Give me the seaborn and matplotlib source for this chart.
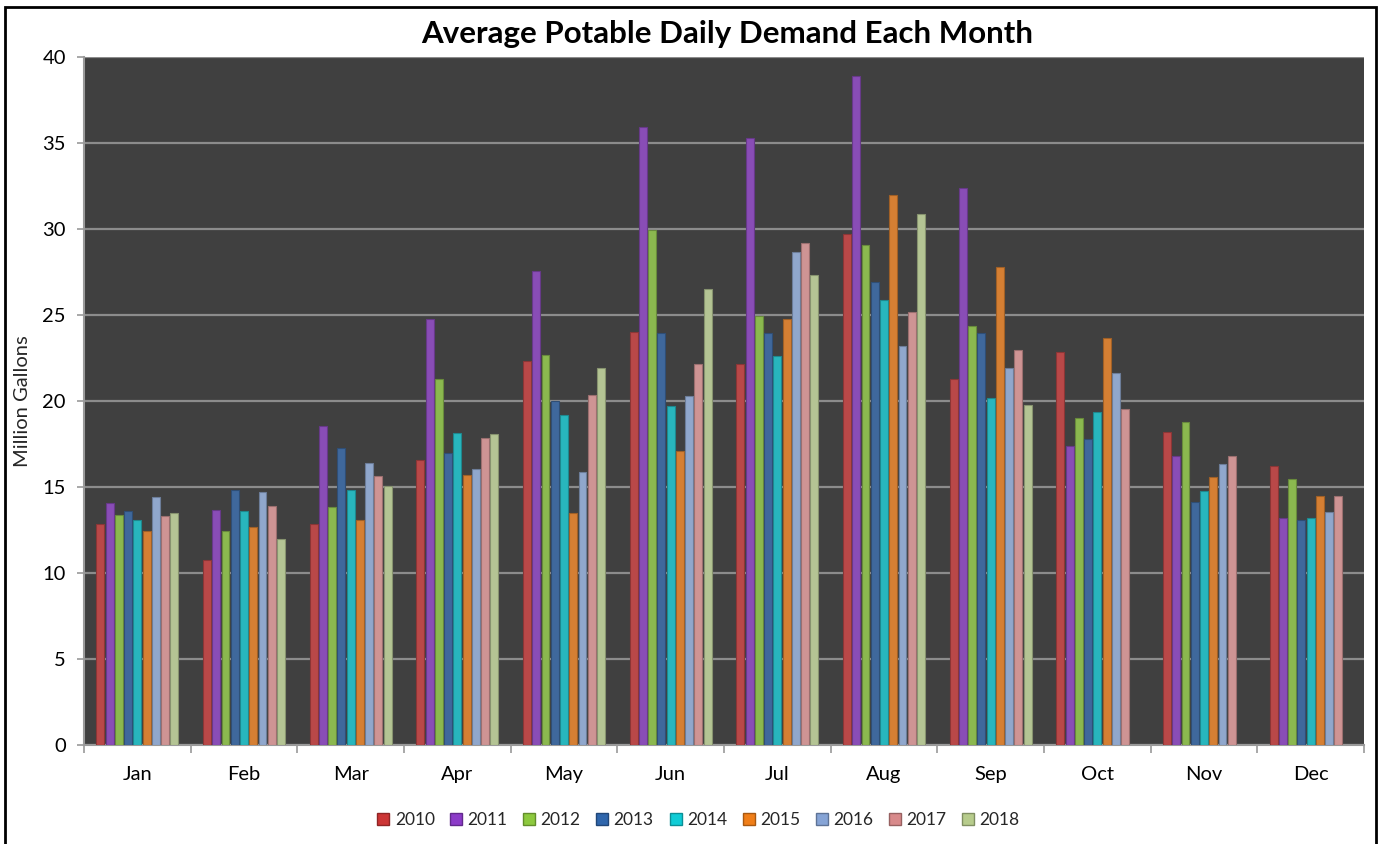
import numpy as np
import pandas as pd
import matplotlib
matplotlib.use("Agg")
import matplotlib.pyplot as plt
import matplotlib.colors as mcolors
import seaborn as sns
from matplotlib.patches import Rectangle
from matplotlib.lines import Line2D

# ---------------- data ----------------
months = ["Jan", "Feb", "Mar", "Apr", "May", "Jun",
          "Jul", "Aug", "Sep", "Oct", "Nov", "Dec"]
years = ["2010", "2011", "2012", "2013", "2014", "2015", "2016", "2017", "2018"]

v2010 = [12.85, 10.75, 12.85, 16.55, 22.33, 24.03, 22.15, 29.71, 21.26, 22.85, 18.18, 16.22]
v2011 = [14.07, 13.66, 18.56, 24.75, 27.56, 35.93, 35.31, 38.90, 32.40, 17.38, 16.80, 13.18]
v2012 = [13.40, 12.44, 13.85, 21.30, 22.70, 29.94, 24.96, 29.07, 24.34, 19.01, 18.76, 15.48]
v2013 = [13.60, 14.80, 17.27, 16.96, 19.98, 23.97, 23.93, 26.94, 23.95, 17.81, 14.15, 13.10]
v2014 = [13.10, 13.60, 14.80, 18.14, 19.17, 19.69, 22.63, 25.87, 20.17, 19.38, 14.79, 13.22]
v2015 = [12.44, 12.70, 13.10, 15.70, 13.47, 17.11, 24.75, 31.98, 27.80, 23.64, 15.60, 14.50]
v2016 = [14.40, 14.70, 16.40, 16.03, 15.85, 20.29, 28.64, 23.20, 21.92, 21.61, 16.32, 13.55]
v2017 = [13.30, 13.90, 15.64, 17.83, 20.33, 22.13, 29.19, 25.17, 22.96, 19.53, 16.80, 14.50]
v2018 = [13.50, 12.00, 15.06, 18.08, 21.90, 26.49, 27.34, 30.87, 19.75, None, None, None]

series = [v2010, v2011, v2012, v2013, v2014, v2015, v2016, v2017, v2018]

colors = ["#CC3535", "#8C3BC8", "#8DC93E", "#2F66AC", "#0FCCD6",
          "#F07E18", "#86A4D6", "#D88A8B", "#B7CC8C"]

rows = []
for yr, vals in zip(years, series):
    for m, v in zip(months, vals):
        if v is not None:
            rows.append({"Month": m, "Year": yr, "Value": v})
df = pd.DataFrame(rows)

# ---------------- style ----------------
sns.set_style("white")
plt.rcParams["font.family"] = ["Lato", "DejaVu Sans"]

fig = plt.figure(figsize=(13.8, 8.44), dpi=100)
fig.patch.set_facecolor("white")

ax = fig.add_axes([84 / 1380, 1 - 745 / 844, (1364 - 84) / 1380, (745 - 57) / 844])
ax.set_facecolor("#404040")

sns.barplot(data=df, x="Month", y="Value", hue="Year",
            order=months, hue_order=years, palette=colors,
            width=0.78, gap=0.15, errorbar=None, legend=False,
            linewidth=0.8, ax=ax, zorder=3)

# darker outline for each bar
for p in ax.patches:
    fc = np.array(mcolors.to_rgb(p.get_facecolor()))
    p.set_edgecolor(tuple(fc * 0.75))

ax.set_ylim(0, 40)
ax.set_xlim(-0.5, 11.5)
ax.set_yticks(np.arange(0, 41, 5))
ax.yaxis.grid(True, color="#8C8C8C", linewidth=1.6, zorder=0)
ax.set_axisbelow(True)

for s in ["top", "right"]:
    ax.spines[s].set_visible(False)
for s in ["left", "bottom"]:
    ax.spines[s].set_color("#9A9A9A")
    ax.spines[s].set_linewidth(1.5)

ax.tick_params(axis="y", length=5, width=1.2, color="#9A9A9A", pad=8,
               labelsize=14.5, labelcolor="black", left=True)
ax.tick_params(axis="x", which="major", length=0, pad=15,
               labelsize=14.5, labelcolor="black")
ax.set_xticks(np.arange(-0.5, 12, 1.0), minor=True)
ax.tick_params(axis="x", which="minor", length=6, width=1.2,
               color="#9A9A9A", bottom=True)

ax.set_xlabel("")
ax.set_ylabel("Million Gallons", fontsize=14.5, labelpad=8)

fig.text(727 / 1380, 1 - 34 / 844, "Average Potable Daily Demand Each Month",
         ha="center", va="center", fontsize=22.5, fontweight="bold", color="black")

handles = [Line2D([0], [0], marker="s", linestyle="", markersize=8,
                  markerfacecolor=c, markeredgecolor=tuple(np.array(mcolors.to_rgb(c)) * 0.7))
           for c in colors]
fig.legend(handles, years, loc="center", bbox_to_anchor=(697 / 1380, 1 - 820 / 844),
           ncol=9, frameon=False, fontsize=12.5, handletextpad=0.15,
           columnspacing=0.75, handlelength=1.0)

# outer frame
fig.add_artist(Rectangle((5 / 1380, -0.05), (1376 - 5) / 1380, 1.05 - 7 / 844,
                         transform=fig.transFigure, fill=False,
                         edgecolor="black", linewidth=2))

fig.savefig("out.png", dpi=100, facecolor="white")
